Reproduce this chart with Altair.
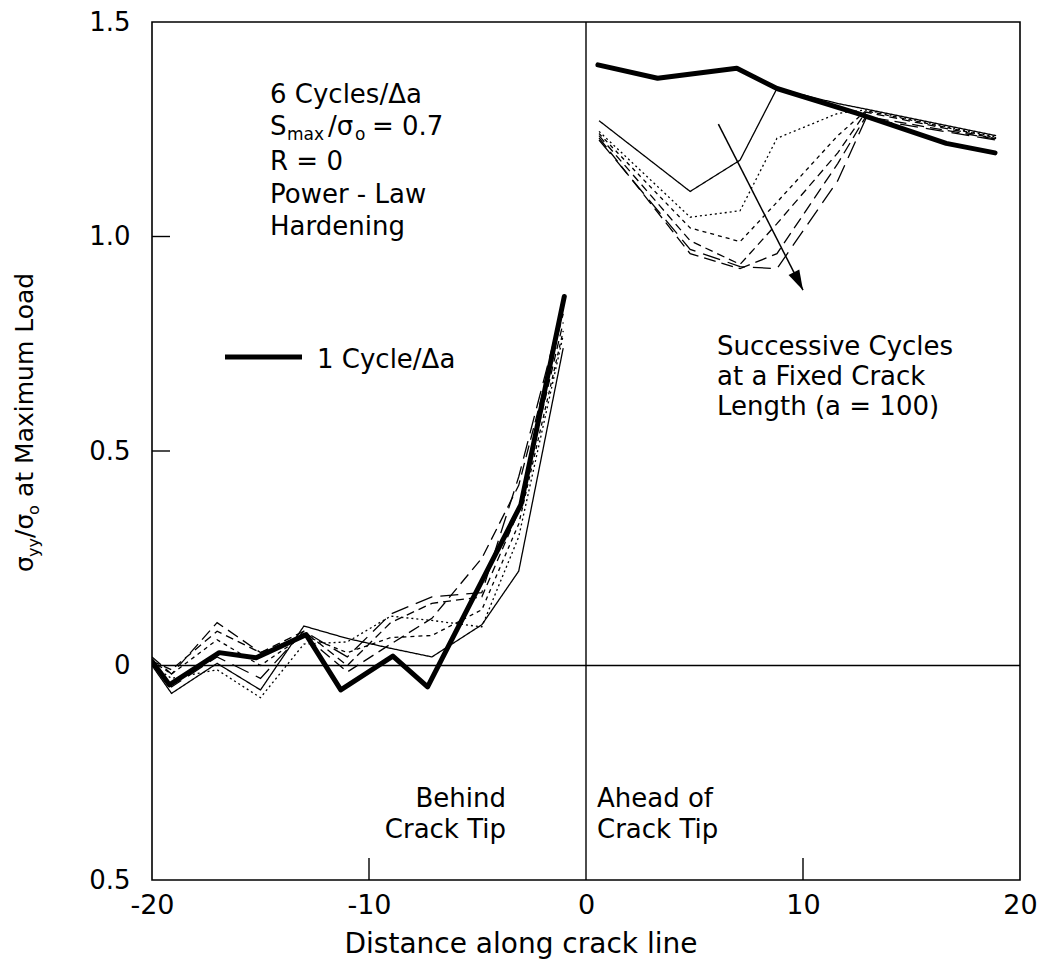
import altair as alt
import pandas as pd

W, H = 868, 858
FONT = "DejaVu Sans"

# ---------------- data ----------------
# 1 cycle per crack-growth increment (thick line)
X_THICK_LEFT = [-20, -19.2, -16.9, -15.2, -12.9, -11.3, -8.9, -7.3, -3.0, -1.0]
Y_THICK_LEFT = [0.01, -0.045, 0.03, 0.018, 0.072, -0.057, 0.022, -0.05, 0.375, 0.86]
X_THICK_RIGHT = [0.55, 3.3, 6.95, 8.8, 12.5, 16.6, 18.85]
Y_THICK_RIGHT = [1.40, 1.369, 1.392, 1.345, 1.287, 1.217, 1.195]

# successive cycles at a fixed crack length (6 cycles / delta a)
CYCLES = ["c1", "c2", "c3", "c4", "c5", "c6"]
X_CYC_LEFT = [-20, -19.1, -17, -15, -13, -11, -9, -7.1, -4.8, -3.1, -1.05]
Y_CYC_LEFT = {
    "c1": [0.00, -0.065, 0.005, -0.057, 0.092, 0.063, 0.04, 0.02, 0.095, 0.22, 0.74],
    "c2": [0.00, -0.03, -0.01, -0.075, 0.05, 0.055, 0.115, 0.105, 0.09, 0.30, 0.77],
    "c3": [0.01, -0.02, 0.06, 0.00, 0.07, 0.03, 0.065, 0.07, 0.13, 0.33, 0.78],
    "c4": [0.01, -0.01, 0.08, 0.03, 0.08, 0.00, 0.10, 0.145, 0.16, 0.36, 0.80],
    "c5": [0.02, -0.02, 0.10, 0.03, 0.07, -0.015, 0.05, 0.11, 0.25, 0.42, 0.82],
    "c6": [0.01, -0.05, 0.02, -0.03, 0.08, 0.02, 0.12, 0.16, 0.17, 0.44, 0.84],
}
X_CYC_RIGHT = [0.6, 4.8, 7.1, 8.8, 11.6, 12.9, 18.9]
Y_CYC_RIGHT = {
    "c1": [1.27, 1.105, 1.178, 1.345, 1.31, 1.297, 1.235],
    "c2": [1.245, 1.045, 1.06, 1.229, 1.287, 1.295, 1.232],
    "c3": [1.24, 1.02, 0.988, 1.08, 1.235, 1.293, 1.23],
    "c4": [1.235, 0.99, 0.935, 1.03, 1.195, 1.29, 1.228],
    "c5": [1.23, 0.96, 0.925, 0.96, 1.17, 1.28, 1.227],
    "c6": [1.225, 0.97, 0.93, 0.925, 1.13, 1.275, 1.225],
}
DASHES = [[1, 0], [2, 3], [4, 4], [8, 5], [12, 6], [18, 8]]

X_TICKS = [-20, -10, 0, 10, 20]
Y_TICKS = [-0.5, 0, 0.5, 1.0, 1.5]

ARROW_X = [6.1, 10.0]
ARROW_Y = [1.262, 0.875]

# ---------------- tables ----------------
thin_rows = []
for c in CYCLES:
    for x, y in zip(X_CYC_LEFT, Y_CYC_LEFT[c]):
        thin_rows.append({"x": x, "y": y, "series": c, "side": "L"})
    for x, y in zip(X_CYC_RIGHT, Y_CYC_RIGHT[c]):
        thin_rows.append({"x": x, "y": y, "series": c, "side": "R"})
df_thin = pd.DataFrame(thin_rows)

thick_rows = [{"x": x, "y": y, "side": "L"} for x, y in zip(X_THICK_LEFT, Y_THICK_LEFT)]
thick_rows += [{"x": x, "y": y, "side": "R"} for x, y in zip(X_THICK_RIGHT, Y_THICK_RIGHT)]
df_thick = pd.DataFrame(thick_rows)

xs = alt.Scale(domain=[-20, 20], nice=False, zero=False)
ys = alt.Scale(domain=[-0.5, 1.5], nice=False, zero=False)

x_axis = alt.Axis(values=X_TICKS, title=None, grid=False, domain=False, ticks=False,
                  labelFont=FONT, labelFontSize=27, labelColor="black", labelPadding=12,
                  labelExpr="'' + datum.value", labelOverlap=False, labelFlush=False)
y_axis = alt.Axis(values=Y_TICKS, title=None, grid=False, domain=False, ticks=False,
                  labelFont=FONT, labelFontSize=26, labelColor="black", labelPadding=22,
                  labelExpr="datum.value == 0 ? '0' : format(abs(datum.value), '.1f')",
                  labelOverlap=False, labelFlush=False)

thin = alt.Chart(df_thin).mark_line(color="black", strokeWidth=1.3, clip=True).encode(
    x=alt.X("x:Q", scale=xs, axis=x_axis),
    y=alt.Y("y:Q", scale=ys, axis=y_axis),
    strokeDash=alt.StrokeDash("series:N", scale=alt.Scale(domain=CYCLES, range=DASHES), legend=None),
    detail="side:N",
)

thick = alt.Chart(df_thick).mark_line(color="black", strokeWidth=5, strokeCap="round",
                                      strokeJoin="round", clip=True).encode(
    x=alt.X("x:Q", scale=xs), y=alt.Y("y:Q", scale=ys), detail="side:N")

zero_h = alt.Chart(pd.DataFrame({"v": [0]})).mark_rule(color="black", strokeWidth=1.4).encode(
    y=alt.Y("v:Q", scale=ys))
zero_v = alt.Chart(pd.DataFrame({"v": [0]})).mark_rule(color="black", strokeWidth=1.4).encode(
    x=alt.X("v:Q", scale=xs))

left_ticks = alt.Chart(pd.DataFrame({"v": [0.5, 1.0]})).mark_rule(color="black", strokeWidth=1.4).encode(
    y=alt.Y("v:Q", scale=ys), x=alt.value(0), x2=alt.value(18))
bottom_ticks = alt.Chart(pd.DataFrame({"v": [-10, 10]})).mark_rule(color="black", strokeWidth=1.4).encode(
    x=alt.X("v:Q", scale=xs), y=alt.value(H), y2=alt.value(H - 22))

df_arrow = pd.DataFrame({"x": [ARROW_X[0]], "y": [ARROW_Y[0]], "x2": [ARROW_X[1]], "y2": [ARROW_Y[1]]})
arrow_line = alt.Chart(df_arrow).mark_rule(color="black", strokeWidth=1.5).encode(
    x=alt.X("x:Q", scale=xs), y=alt.Y("y:Q", scale=ys), x2="x2:Q", y2="y2:Q")
arrow_head = alt.Chart(df_arrow).mark_point(
    shape="M0,0L-0.3,-1L0.3,-1Z", filled=True, color="black", opacity=1, size=1600, angle=333
).encode(x=alt.X("x2:Q", scale=xs), y=alt.Y("y2:Q", scale=ys))

# legend sample line
legend_line = alt.Chart(pd.DataFrame({"v": [0]})).mark_rule(color="black", strokeWidth=5).encode(
    x=alt.value(73), x2=alt.value(150), y=alt.value(335))

# ---------------- text ----------------
texts_left = pd.DataFrame([
    {"t": "6 Cycles/\u0394a", "px": 118, "py": 81, "fs": 26},
    {"t": "S", "px": 118, "py": 113, "fs": 26},
    {"t": "max", "px": 135, "py": 118, "fs": 17},
    {"t": "/\u03c3", "px": 176, "py": 113, "fs": 26},
    {"t": "o", "px": 203, "py": 118, "fs": 17},
    {"t": "= 0.7", "px": 220, "py": 113, "fs": 26},
    {"t": "R = 0", "px": 118, "py": 148, "fs": 26},
    {"t": "Power - Law", "px": 118, "py": 181, "fs": 26},
    {"t": "Hardening", "px": 118, "py": 213, "fs": 26},
    {"t": "1 Cycle/\u0394a", "px": 165, "py": 346, "fs": 26},
    {"t": "Successive Cycles", "px": 565, "py": 333, "fs": 26},
    {"t": "at a Fixed Crack", "px": 565, "py": 363, "fs": 26},
    {"t": "Length (a = 100)", "px": 565, "py": 393, "fs": 26},
    {"t": "Ahead of", "px": 445, "py": 785, "fs": 26},
    {"t": "Crack Tip", "px": 445, "py": 816, "fs": 26},
])
texts_right = pd.DataFrame([
    {"t": "Behind", "px": 354, "py": 785, "fs": 26},
    {"t": "Crack Tip", "px": 354, "py": 816, "fs": 26},
])
texts_center = pd.DataFrame([
    {"t": "Distance along crack line", "px": 369, "py": 931, "fs": 28},
])
ytitle = pd.DataFrame([
    {"t": "\u03c3", "px": -119, "py": 550, "fs": 25},
    {"t": "yy", "px": -113, "py": 535, "fs": 16},
    {"t": "/\u03c3", "px": -119, "py": 516, "fs": 25},
    {"t": "o", "px": -113, "py": 493, "fs": 16},
    {"t": "at Maximum Load", "px": -119, "py": 475, "fs": 25},
])


def text_layer(df, align, angle=0):
    return alt.Chart(df).mark_text(font=FONT, color="black", align=align, baseline="alphabetic",
                                   angle=angle).encode(
        x=alt.X("px:Q", scale=None, axis=None),
        y=alt.Y("py:Q", scale=None, axis=None),
        size=alt.Size("fs:Q", scale=None, legend=None),
        text="t:N",
    )


chart = alt.layer(
    zero_h, zero_v, left_ticks, bottom_ticks,
    thin, thick, arrow_line, arrow_head, legend_line,
    text_layer(texts_left, "left"),
    text_layer(texts_right, "right"),
    text_layer(texts_center, "center"),
    text_layer(ytitle, "left", 270),
).properties(
    width=W, height=H,
    autosize=alt.AutoSizeParams(type="none"),
    padding={"left": 152, "top": 22, "right": 20, "bottom": 96},
    background="white",
).configure_view(stroke="black", strokeWidth=1.6)

chart.save("out.html", embed_options={"renderer": "svg", "actions": False})
